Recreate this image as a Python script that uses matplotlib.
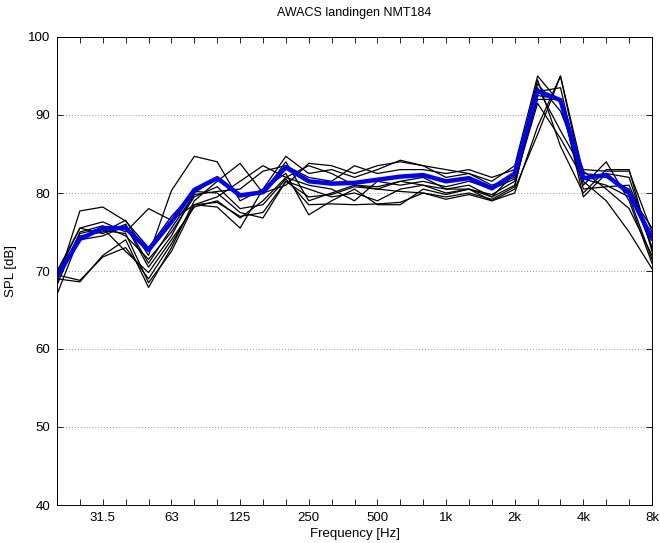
import matplotlib
matplotlib.use("Agg")
import matplotlib.pyplot as plt
import numpy as np

bands = ["20", "25", "31.5", "40", "50", "63", "80", "100", "125", "160", "200", "250",
         "315", "400", "500", "630", "800", "1k", "1.25k", "1.6k", "2k", "2.5k", "3.15k",
         "4k", "5k", "6.3k", "8k"]
tick_labels = ["31.5", "63", "125", "250", "500", "1k", "2k", "4k", "8k"]

mean_spl = [69.3, 74.1, 75.5, 75.5, 72.7, 76.3, 80.4, 81.9, 79.7, 80.1, 83.3, 81.5, 81.2, 81.3,
            81.7, 82.1, 82.3, 81.5, 81.9, 80.6, 82.5, 93.1, 91.9, 81.9, 82.3, 80.0, 74.2]

landing_1 = [68.5, 77.7, 78.2, 76.4, 73.0, 77.0, 80.2, 80.0, 77.5, 76.8, 81.5, 80.5, 79.5, 80.0, 79.0, 80.5, 81.0, 80.0, 80.5, 79.5, 81.0, 92.5, 92.0, 82.0, 82.0, 80.5, 73.0]
landing_2 = [69.5, 75.5, 76.3, 75.0, 78.0, 76.5, 78.5, 79.5, 81.5, 83.5, 82.0, 83.5, 82.5, 81.0, 80.5, 80.2, 80.0, 79.2, 79.8, 79.0, 80.5, 87.5, 95.0, 82.5, 82.2, 80.0, 75.5]
landing_3 = [67.0, 74.5, 75.0, 76.5, 72.0, 80.3, 84.7, 84.0, 79.0, 80.5, 84.7, 82.5, 83.0, 82.0, 83.0, 84.2, 83.5, 83.0, 82.5, 81.5, 83.5, 95.0, 91.5, 80.5, 80.8, 81.0, 74.0]
landing_4 = [69.0, 68.6, 72.0, 74.0, 67.9, 73.0, 79.0, 81.5, 83.8, 80.0, 84.0, 79.0, 80.0, 81.0, 80.8, 81.5, 82.0, 80.5, 81.0, 79.5, 82.5, 94.5, 86.0, 80.0, 83.0, 83.0, 72.5]
landing_5 = [70.0, 74.0, 74.5, 75.8, 70.5, 74.5, 80.0, 82.0, 79.5, 80.0, 81.0, 83.8, 83.5, 82.5, 83.5, 84.0, 83.5, 82.0, 82.5, 81.0, 82.0, 93.0, 93.5, 81.0, 84.0, 79.0, 71.0]
landing_6 = [69.5, 68.8, 71.8, 73.0, 69.0, 73.5, 78.5, 78.2, 75.5, 80.5, 82.5, 77.2, 79.0, 80.5, 78.5, 78.5, 80.5, 79.8, 80.5, 79.0, 80.0, 88.5, 95.0, 81.5, 79.0, 75.0, 70.3]
landing_7 = [68.2, 75.0, 75.8, 74.5, 71.5, 75.0, 79.5, 80.8, 78.0, 78.5, 81.8, 78.5, 78.6, 78.5, 78.6, 78.8, 80.0, 79.5, 80.0, 79.2, 80.8, 93.5, 88.0, 82.8, 80.5, 78.0, 72.0]
landing_8 = [69.2, 74.8, 75.5, 72.5, 69.8, 74.0, 78.2, 79.0, 76.8, 79.0, 82.0, 81.0, 80.5, 79.0, 81.5, 81.0, 81.5, 80.8, 81.5, 80.5, 81.8, 92.0, 92.0, 79.5, 82.5, 82.0, 73.0]
landing_9 = [70.0, 75.5, 74.8, 76.0, 71.0, 75.5, 79.8, 80.2, 80.5, 82.8, 83.5, 82.0, 81.5, 83.5, 82.5, 83.0, 83.0, 82.5, 83.0, 82.0, 83.0, 94.0, 90.5, 83.0, 82.8, 82.8, 75.0]
landing_10 = [69.8, 74.2, 75.2, 74.8, 68.5, 72.5, 78.5, 78.8, 77.0, 77.5, 81.5, 79.5, 79.8, 80.8, 80.5, 81.5, 81.0, 80.5, 80.5, 79.8, 81.5, 91.5, 87.0, 81.8, 81.0, 79.5, 71.5]

landings = [landing_1, landing_2, landing_3, landing_4, landing_5,
            landing_6, landing_7, landing_8, landing_9, landing_10]

plt.rcParams['font.family'] = ['Liberation Sans', 'DejaVu Sans']

fig = plt.figure(figsize=(6.6, 5.43), dpi=100)
ax = fig.add_axes([57/660, 1 - 505/543, (652 - 57)/660, (505 - 37)/543])

x = np.arange(len(bands))
for ln in landings:
    ax.plot(x, ln, color='black', lw=0.9)
ax.plot(x, mean_spl, color='#0000ff', lw=3.2)

ax.set_xlim(0, len(bands) - 1)
ax.set_ylim(40, 100)
ax.set_yticks(np.arange(40, 101, 10))
ax.set_xticks([bands.index(t) for t in tick_labels])
ax.set_xticklabels(tick_labels)
ax.set_xticks(x, minor=True)
ax.yaxis.grid(True, linestyle=(0, (1, 2)), color='#999999', lw=0.7)
ax.tick_params(which='both', direction='in', top=True, right=True, labelsize=9.5,
               length=4, width=0.6, pad=5)
for s in ax.spines.values():
    s.set_linewidth(0.7)

ax.set_title("AWACS landingen NMT184", fontsize=9, pad=15)
ax.set_xlabel("Frequency [Hz]", fontsize=9.5, labelpad=3)
ax.set_ylabel("SPL [dB]", fontsize=9.5, labelpad=8)

fig.savefig("out.png", dpi=100)
